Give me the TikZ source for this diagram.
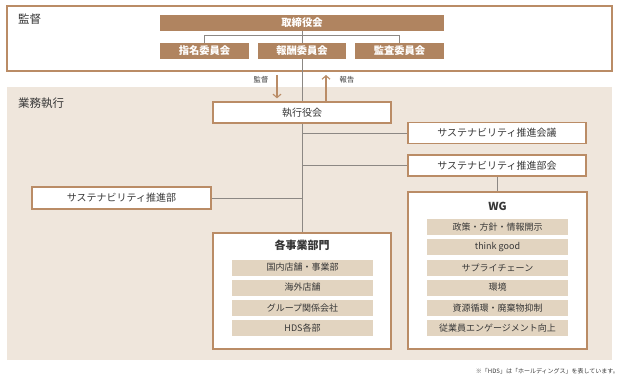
\documentclass[tikz,border=0pt]{standalone}
\usepackage{fontspec}
\setmainfont{Noto Sans CJK JP}
\usetikzlibrary{arrows.meta}
\definecolor{brownfill}{RGB}{176,132,96}
\definecolor{brownline}{RGB}{186,140,102}
\definecolor{beige}{RGB}{239,230,220}
\definecolor{itemfill}{RGB}{226,212,192}
\definecolor{conn}{RGB}{140,136,132}
\definecolor{txt}{RGB}{55,55,55}
\pgfdeclarelayer{back}
\pgfdeclarelayer{lines}
\pgfsetlayers{back,lines,main}
\tikzset{
  darkbox/.style={fill=brownfill, draw=none, text=white, font=\fontsize{10.3}{11}\selectfont\bfseries, inner sep=0pt, minimum height=16pt},
  whitebox/.style={fill=white, draw=brownline, line width=1.3pt, text=txt, font=\fontsize{10}{11}\selectfont, inner sep=0pt, minimum width=178pt, minimum height=21pt},
  groupbox/.style={fill=white, draw=brownline, line width=1.3pt, inner sep=0pt},
  itembox/.style={fill=itemfill, draw=none, text=txt, font=\fontsize{9}{10}\selectfont, inner sep=0pt, minimum width=141pt, minimum height=16pt},
  heading/.style={text=txt, font=\fontsize{11.5}{12}\selectfont, inner sep=0pt, anchor=west},
  grouptitle/.style={text=txt, font=\fontsize{11}{12}\selectfont\bfseries, inner sep=0pt},
  small/.style={text=txt, font=\fontsize{7.3}{8}\selectfont, inner sep=0pt},
  note/.style={text=txt, font=\fontsize{6}{7}\selectfont, inner sep=0pt},
  connector/.style={draw=conn, line width=0.9pt},
  arr/.style={draw=brownline, line width=1.1pt, -{Straight Barb[length=3.5pt,width=8pt,line width=1.1pt]}},
}
\begin{document}
\begin{tikzpicture}[x=1pt,y=-1pt]
\useasboundingbox (0,0) rectangle (620,382);
% frames
\begin{pgfonlayer}{back}
\node[groupbox, minimum width=605pt, minimum height=65pt] (topframe) at (309.5,38.5) {};
\fill[beige] (7,87) rectangle (612,360);
\end{pgfonlayer}
\node[heading] (hkansa) at (18,19) {監督};
\node[heading] (hgyomu) at (18,103) {業務執行};
% top governance
\node[darkbox, minimum width=284pt] (tori) at (302,23) {取締役会};
\node[darkbox, minimum width=89pt] (shimei) at (204.5,51) {指名委員会};
\node[darkbox, minimum width=88pt] (hoshu) at (302,51) {報酬委員会};
\node[darkbox, minimum width=89pt] (kansa) at (399.5,51) {監査委員会};
% execution
\node[whitebox] (shikko) at (302,112.5) {執行役会};
\node[whitebox] (kaigi) at (497,133) {サステナビリティ推進会議};
\node[whitebox] (bukai) at (497,165.5) {サステナビリティ推進部会};
\node[whitebox, minimum width=179pt, minimum height=22pt] (suishin) at (121.5,198) {サステナビリティ推進部};
\node[groupbox, minimum width=178pt, minimum height=116pt] (jigyo) at (302,291) {};
\node[groupbox, minimum width=179pt, minimum height=157pt] (wg) at (497.5,270.5) {};
\node[grouptitle] (jigyot) at (302,245) {各事業部門};
\node[grouptitle] (wgt) at (497.5,206) {WG};
\node[itembox] (j1) at (302.5,267.5) {国内店舗・事業部};
\node[itembox] (j2) at (302.5,287.5) {海外店舗};
\node[itembox] (j3) at (302.5,308) {グループ関係会社};
\node[itembox] (j4) at (302.5,328) {HDS各部};
\node[itembox] (w1) at (497.5,227) {政策・方針・情報開示};
\node[itembox] (w2) at (497.5,247) {think good};
\node[itembox] (w3) at (497.5,267.5) {サプライチェーン};
\node[itembox] (w4) at (497.5,287.5) {環境};
\node[itembox] (w5) at (497.5,308) {資源循環・廃棄物抑制};
\node[itembox] (w6) at (497.5,328) {従業員エンゲージメント向上};
% arrows
\coordinate (kstart) at (277,75);
\coordinate (hend) at (326,75);
\draw[arr, shorten >=3pt] (kstart) -- (kstart |- shikko.north);
\draw[arr] (hend |- shikko.north) -- (hend);
\node[small] (lk) at (261,80) {監督};
\node[small] (lh) at (347,80) {報告};
% connectors
\begin{pgfonlayer}{lines}
\draw[connector] (tori.south) -- (jigyo.north);
\draw[connector] (shimei.north) -- ++(0,-7) -| (kansa.north);
\draw[connector] (kaigi.west) -- (kaigi.west -| tori.south);
\draw[connector] (bukai.west) -- (bukai.west -| tori.south);
\draw[connector] (suishin.east) -- (suishin.east -| tori.south);
\draw[connector] (bukai.south) -- (bukai.south |- wg.north);
\end{pgfonlayer}
% footnote
\node[note, anchor=east] (fn) at (619,371) {※「HDS」は「ホールディングス」を表しています。};
\end{tikzpicture}
\end{document}
